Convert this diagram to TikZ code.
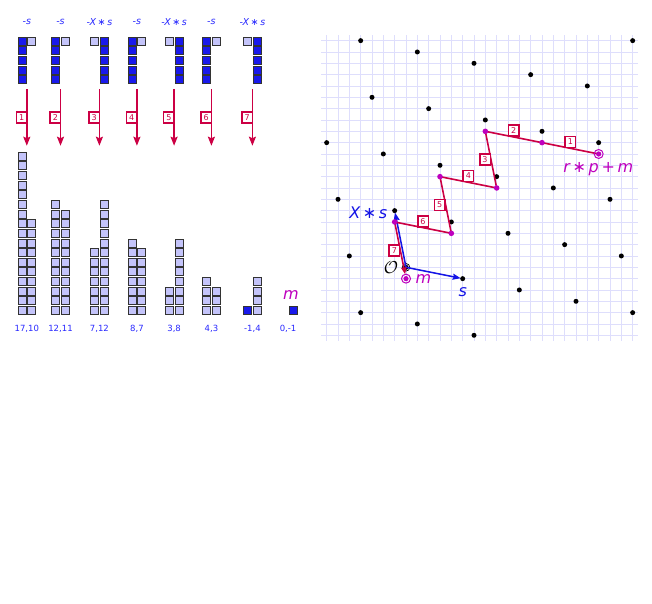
\documentclass[tikz,border=0pt]{standalone}
\usepackage{fontspec}
\newfontfamily\dejavu{DejaVu Sans}
\usetikzlibrary{arrows.meta}
\definecolor{crim}{RGB}{204,0,68}
\definecolor{mag}{RGB}{190,0,190}
\definecolor{dblue}{RGB}{25,25,235}
\definecolor{lblue}{RGB}{196,196,250}
\definecolor{tblue}{RGB}{40,40,255}
\definecolor{gridc}{RGB}{222,222,252}
\definecolor{vblue}{RGB}{20,20,230}
\tikzset{
  possq/.style={draw=black!80, line width=0.9pt, fill=lblue},
  negsq/.style={draw=black!80, line width=0.9pt, fill=dblue},
  numbox/.style={draw=crim, fill=white, line width=1.5pt, text=crim,
    font=\dejavu\fontsize{8}{8}\selectfont, minimum width=10.5pt,
    minimum height=11pt, inner sep=0pt},
  steparrow/.style={draw=crim, line width=1.6pt, -{Stealth[length=9pt,width=7pt,inset=1.5pt]}},
  coordlabel/.style={text=tblue, font=\dejavu\fontsize{8.5}{8.5}\selectfont},
  oplabel/.style={text=tblue, font=\dejavu\itshape\fontsize{9.5}{9.5}\selectfont},
  biglabel/.style={font=\dejavu\itshape\fontsize{16}{16}\selectfont, inner sep=0pt},
  gridline/.style={draw=gridc, line width=0.8pt},
  pathline/.style={draw=crim, line width=1.6pt},
  vec/.style={draw=vblue, line width=1.5pt, -{Stealth[length=8pt,width=6pt,inset=1pt]}, shorten >=2pt},
}
% stack of squares growing upward: #1 x centre, #2 count, #3 style
\newcommand\upstack[3]{\foreach \k in {1,...,#2}{\filldraw[#3] ({#1-4},{310.5-9.65*(\k-1)-4}) rectangle ++(8,8);}}
% icon column growing downward from top row
\newcommand\downstack[3]{\foreach \k in {1,...,#2}{\filldraw[#3] ({#1-4},{41.2+9.65*(\k-1)-4}) rectangle ++(8,8);}}
\newcommand\minuss[1]{\downstack{#1-4.85}{5}{negsq}\downstack{#1+4.85}{1}{possq}}
\newcommand\minusxs[1]{\downstack{#1-4.85}{1}{possq}\downstack{#1+4.85}{5}{negsq}}
\begin{document}
\begin{tikzpicture}[x=1pt,y=-1pt]
\useasboundingbox[fill=white] (0,0) rectangle (652,603);
% ---------- left panel: icons ----------
\minuss{26.8}\minuss{60.5}\minusxs{99.4}\minuss{136.9}\minusxs{174.1}\minuss{211.4}\minusxs{252.4}
\node[oplabel] (t1) at (26.8,22) {-s};
\node[oplabel] (t2) at (60.5,22) {-s};
\node[oplabel] (t3) at (99.4,22) {-X\,∗\,s};
\node[oplabel] (t4) at (136.9,22) {-s};
\node[oplabel] (t5) at (174.1,22) {-X\,∗\,s};
\node[oplabel] (t6) at (211.4,22) {-s};
\node[oplabel] (t7) at (252.4,22) {-X\,∗\,s};
% arrows
\foreach \c/\n in {26.8/1,60.5/2,99.4/3,136.9/4,174.1/5,211.4/6,252.4/7}{
  \coordinate (a\n) at (\c,89.3);
  \coordinate (b\n) at (\c,145.7);
  \draw[steparrow] (a\n) -- (b\n);
  \node[numbox, anchor=east] (n\n) at (\c+0.8,117.3) {\n};
}
% ---------- stacks ----------
\upstack{21.95}{17}{possq}\upstack{31.65}{10}{possq}
\upstack{55.65}{12}{possq}\upstack{65.35}{11}{possq}
\upstack{94.55}{7}{possq}\upstack{104.25}{12}{possq}
\upstack{132.05}{8}{possq}\upstack{141.75}{7}{possq}
\upstack{169.25}{3}{possq}\upstack{178.95}{8}{possq}
\upstack{206.55}{4}{possq}\upstack{216.25}{3}{possq}
\upstack{247.55}{1}{negsq}\upstack{257.25}{4}{possq}
\upstack{292.95}{1}{negsq}
\node[biglabel, text=mag] (mleft) at (291,295) {m};
\foreach \c/\t [count=\i] in {26.8/{17,10},60.5/{12,11},99.4/{7,12},136.9/{8,7},174.1/{3,8},211.4/{4,3},252.4/{-1,4},288.1/{0,-1}}{
  \node[coordlabel] (c\i) at (\c,328.7) {\t};
}
% ---------- right panel: lattice ----------
\begin{scope}[xshift=406pt, yshift=-267.3pt, x=11.333pt, y=11.333pt]
  \foreach \i in {-7,...,20} \draw[gridline] (\i,-6.5) -- (\i,20.5);
  \foreach \j in {-6,...,20} \draw[gridline] (-7.5,\j) -- (20.5,\j);
  \foreach \px/\py in {-4/-4,1/-5,6/-6,-5/1,0/0,5/-1,10/-2,15/-3,20/-4,
     -6/6,-1/5,4/4,9/3,14/2,19/1,-7/11,-2/10,3/9,8/8,13/7,18/6,
     -3/15,2/14,7/13,12/12,17/11,-4/20,1/19,6/18,11/17,16/16,20/20}
     \fill (\px,\py) circle (2.5pt);
  \coordinate (O) at (0,0);
  \coordinate (S) at (5,-1);
  \coordinate (XS) at (-1,5);
  \coordinate (P0) at (17,10);
  \coordinate (P1) at (12,11);
  \coordinate (P2) at (7,12);
  \coordinate (P3) at (8,7);
  \coordinate (P4) at (3,8);
  \coordinate (P5) at (4,3);
  \coordinate (P6) at (-1,4);
  \coordinate (P7) at (0,-1);
  \draw[black, line width=0.7pt] (O) circle (3.8pt);
  \draw[vec] (O) -- (S);
  \draw[vec] (O) -- (XS);
  \draw[pathline] (P0) -- node[numbox, anchor=south] (r1) {1} (P1);
  \draw[pathline] (P1) -- node[numbox, anchor=south] (r2) {2} (P2);
  \draw[pathline] (P2) -- node[numbox, anchor=east] (r3) {3} (P3);
  \draw[pathline] (P3) -- node[numbox, anchor=south] (r4) {4} (P4);
  \draw[pathline] (P4) -- node[numbox, anchor=east] (r5) {5} (P5);
  \draw[pathline] (P5) -- node[numbox, anchor=south] (r6) {6} (P6);
  \draw[pathline, -{Stealth[length=7pt,width=5.5pt,inset=1pt]}, shorten >=4.5pt] (P6) -- node[numbox, anchor=east] (r7) {7} (P7);
  \foreach \p in {P1,P2,P3,P4,P5,P6} \fill[mag] (\p) circle (2.8pt);
  \foreach \p in {P0,P7}{\draw[mag, line width=1pt] (\p) circle (4.5pt); \fill[mag] (\p) circle (2.6pt);}
  \node[biglabel, text=vblue] (slab) at (5,-2.15) {s};
  \node[biglabel, text=vblue] (xslab) at (-3.33,4.85) {X\,∗\,s};
  \node[biglabel, text=mag] (mlab) at (1.53,-1.03) {m};
  \node[inner sep=0pt, font=\fontsize{18}{18}\selectfont] (olab) at (-1.32,0) {$\mathcal{O}$};
  \node[biglabel, text=mag] (rlab) at (16.97,8.65) {r\,∗\,p\,+\,m};
\end{scope}
\end{tikzpicture}
\end{document}
